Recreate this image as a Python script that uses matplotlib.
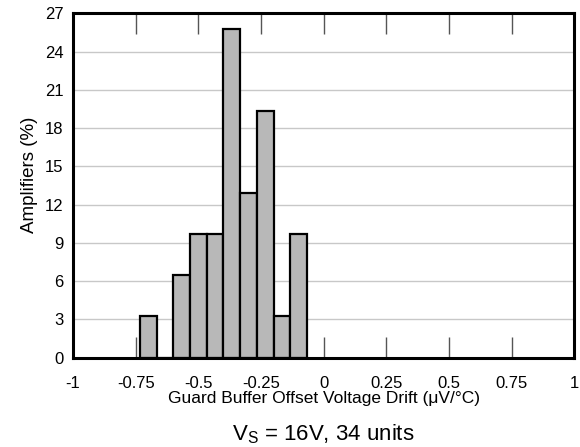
import numpy as np
import matplotlib
matplotlib.use("Agg")
import matplotlib.pyplot as plt

plt.rcParams['font.family'] = ['Liberation Sans', 'DejaVu Sans']

# histogram bins (uV/C) and share of amplifiers in each (%)
bin_centers = [-0.7, -0.6333, -0.5667, -0.5, -0.4333, -0.3667, -0.3, -0.2333, -0.1667, -0.1]
pct = [3.23, 0, 6.45, 9.68, 9.68, 25.81, 12.90, 19.35, 3.23, 9.68]
bin_width = 1 / 15

xticks = [-1, -0.75, -0.5, -0.25, 0, 0.25, 0.5, 0.75, 1]
xtick_labels = ['-1', '-0.75', '-0.5', '-0.25', '0', '0.25', '0.5', '0.75', '1']
yticks = [0, 3, 6, 9, 12, 15, 18, 21, 24, 27]

fig = plt.figure(figsize=(5.8, 4.47), dpi=100)
ax = fig.add_axes([0.126, 0.2, 0.864, 0.77])

ax.bar(bin_centers, pct, width=bin_width, color='#b8b8b8',
       edgecolor='black', linewidth=1.6, zorder=3)

ax.set_xlim(-1, 1)
ax.set_ylim(0, 27)
ax.set_xticks(xticks)
ax.set_xticklabels(xtick_labels)
ax.set_yticks(yticks)

ax.yaxis.grid(True, color='#c8c8c8', linewidth=1, zorder=0)
ax.tick_params(axis='x', direction='in', length=15, width=1, color='#555555',
               top=True, labelsize=12, pad=13)
ax.tick_params(axis='y', length=0, labelsize=12, pad=7)

for s in ax.spines.values():
    s.set_linewidth(2.2)
    s.set_zorder(4)

ax.set_xlabel('Guard Buffer Offset Voltage Drift (μV/°C)', fontsize=12.5, labelpad=0)
ax.set_ylabel('Amplifiers (%)', fontsize=13.5)
ax.yaxis.set_label_coords(-0.07, 0.53)

fig.text(0.557, 0.0157, r'V$_\mathregular{S}$ = 16V, 34 units', ha='center',
         va='baseline', fontsize=16)

fig.savefig('out.png', dpi=100)
